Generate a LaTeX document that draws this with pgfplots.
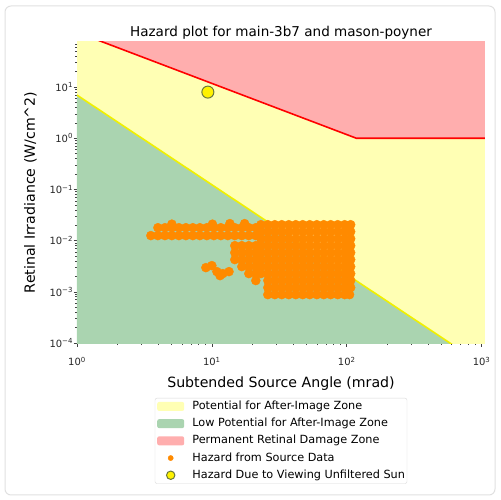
\documentclass[border=0pt]{standalone}
\usepackage{fontspec}
\setmainfont{DejaVu Sans}
\usepackage{pgfplots}
\pgfplotsset{compat=1.18}
\definecolor{yellowfill}{RGB}{255,255,180}
\definecolor{greenfill}{RGB}{170,212,176}
\definecolor{redfill}{RGB}{255,174,174}
\definecolor{yellowline}{RGB}{240,240,0}
\definecolor{hazorange}{RGB}{255,138,0}
\definecolor{sunedge}{RGB}{105,120,60}
\begin{document}
\begin{tikzpicture}
\begin{axis}[
  at={(77bp,157bp)}, anchor=south west,
  scale only axis, width=408bp, height=301bp,
  xmode=log, ymode=log,
  xmin=1, xmax=1060, ymin=1e-4, ymax=76,
  axis line style={draw=none},
  tick pos=left, tick align=outside,
  major tick length=3.5bp, minor tick length=2bp,
  every tick/.style={black!75, line width=0.6bp},
  xtick={1,10,100,1000},
  xticklabels={10\textsuperscript{0},10\textsuperscript{1},10\textsuperscript{2},10\textsuperscript{3}},
  minor xtick={2,3,4,5,6,7,8,9,20,30,40,50,60,70,80,90,200,300,400,500,600,700,800,900},
  ytick={1e-4,1e-3,1e-2,1e-1,1,10},
  yticklabels={10\textsuperscript{−4},10\textsuperscript{−3},10\textsuperscript{−2},10\textsuperscript{−1},10\textsuperscript{0},10\textsuperscript{1}},
  minor ytick={2e-4,3e-4,4e-4,5e-4,6e-4,7e-4,8e-4,9e-4,
    2e-3,3e-3,4e-3,5e-3,6e-3,7e-3,8e-3,9e-3,
    0.02,0.03,0.04,0.05,0.06,0.07,0.08,0.09,
    0.2,0.3,0.4,0.5,0.6,0.7,0.8,0.9,
    2,3,4,5,6,7,8,9,20,30,40,50,60,70},
  ticklabel style={font=\fontsize{10}{12}\selectfont, text=black!85},
  xticklabel style={yshift=-7bp},
  yticklabel style={xshift=3bp},
  title={Hazard plot for main-3b7 and mason-poyner},
  title style={at={(axis description cs:0.5,1.0)}, anchor=base, font=\fontsize{13.6}{16}\selectfont},
  xlabel={Subtended Source Angle (mrad)},
  ylabel={Retinal Irradiance (W/cm\^{}2)},
  xlabel style={at={(axis description cs:0.5,-0.1462)}, anchor=base, font=\fontsize{14.2}{17}\selectfont},
  ylabel style={at={(axis description cs:-0.103,0.5)}, anchor=base, font=\fontsize{14.2}{17}\selectfont},
  legend style={at={(axis description cs:0.5,-0.1827)}, anchor=north,
    font=\fontsize{11.3}{13}\selectfont,
    draw=black!15, rounded corners=2bp, fill=white,
    inner xsep=2bp, inner ysep=3bp,
    row sep=6.7bp, column sep=8bp,
    nodes={inner sep=0pt, text height=8.3bp, text depth=2.2bp}},
  legend cell align=left,
]
% zones
\addplot[fill=yellowfill, draw=none,
  legend image code/.code={\fill[yellowfill] (0bp,-4.5bp) rectangle (27bp,4.5bp);}]
  coordinates {(1,1e-5) (2000,1e-5) (2000,1000) (1,1000)};
\addlegendentry{Potential for After-Image Zone}
\addplot[fill=greenfill, draw=none,
  legend image code/.code={\fill[greenfill] (0bp,-4.5bp) rectangle (27bp,4.5bp);}]
  coordinates {(1,6.98) (1060,3.5e-5) (1060,1e-5) (1,1e-5)};
\addlegendentry{Low Potential for After-Image Zone}
\addplot[fill=redfill, draw=none,
  legend image code/.code={\fill[redfill] (0bp,-4.5bp) rectangle (27bp,4.5bp);}]
  coordinates {(1,118) (118,1) (1060,1) (1060,1000) (1,1000)};
\addlegendentry{Permanent Retinal Damage Zone}
% threshold lines
\addplot[yellowline, line width=1.6bp, forget plot] coordinates {(1,6.98) (1060,3.5e-5)};
\addplot[red, line width=1.6bp, forget plot] coordinates {(1,118) (118,1) (1060,1)};
% hazard from source data
\addplot[only marks, mark=*, mark size=4.5bp, hazorange, mark options={draw=hazorange, fill=hazorange},
  legend image code/.code={\path (0bp,0bp) (27bp,0bp); \fill[hazorange] (13.5bp,0bp) circle (2.6bp);}]
  coordinates {
  (23.1,0.0205) (26.0,0.0205) (29.3,0.0205) (33.0,0.0205) (37.2,0.0205) (41.9,0.0205) (47.2,0.0205) (53.2,0.0205) (60.0,0.0205) (67.6,0.0205) (76.1,0.0205) (85.8,0.0205) (96.6,0.0205) (107,0.0205)
  (23.1,0.0150) (26.0,0.0150) (29.3,0.0150) (33.0,0.0150) (37.2,0.0150) (41.9,0.0150) (47.2,0.0150) (53.2,0.0150) (60.0,0.0150) (67.6,0.0150) (76.1,0.0150) (85.8,0.0150) (96.6,0.0150) (107,0.0150)
  (23.1,0.0109) (26.0,0.0109) (29.3,0.0109) (33.0,0.0109) (37.2,0.0109) (41.9,0.0109) (47.2,0.0109) (53.2,0.0109) (60.0,0.0109) (67.6,0.0109) (76.1,0.0109) (85.8,0.0109) (96.6,0.0109) (107,0.0109)
  (23.1,0.00798) (26.0,0.00798) (29.3,0.00798) (33.0,0.00798) (37.2,0.00798) (41.9,0.00798) (47.2,0.00798) (53.2,0.00798) (60.0,0.00798) (67.6,0.00798) (76.1,0.00798) (85.8,0.00798) (96.6,0.00798) (107,0.00798)
  (23.1,0.00583) (26.0,0.00583) (29.3,0.00583) (33.0,0.00583) (37.2,0.00583) (41.9,0.00583) (47.2,0.00583) (53.2,0.00583) (60.0,0.00583) (67.6,0.00583) (76.1,0.00583) (85.8,0.00583) (96.6,0.00583) (107,0.00583)
  (23.1,0.00426) (26.0,0.00426) (29.3,0.00426) (33.0,0.00426) (37.2,0.00426) (41.9,0.00426) (47.2,0.00426) (53.2,0.00426) (60.0,0.00426) (67.6,0.00426) (76.1,0.00426) (85.8,0.00426) (96.6,0.00426) (107,0.00426)
  (23.1,0.00311) (26.0,0.00311) (29.3,0.00311) (33.0,0.00311) (37.2,0.00311) (41.9,0.00311) (47.2,0.00311) (53.2,0.00311) (60.0,0.00311) (67.6,0.00311) (76.1,0.00311) (85.8,0.00311) (96.6,0.00311) (107,0.00311)
  (23.1,0.00227) (26.0,0.00227) (29.3,0.00227) (33.0,0.00227) (37.2,0.00227) (41.9,0.00227) (47.2,0.00227) (53.2,0.00227) (60.0,0.00227) (67.6,0.00227) (76.1,0.00227) (85.8,0.00227) (96.6,0.00227) (107,0.00227)
  (26.0,0.00166) (29.3,0.00166) (33.0,0.00166) (37.2,0.00166) (41.9,0.00166) (47.2,0.00166) (53.2,0.00166) (60.0,0.00166) (67.6,0.00166) (76.1,0.00166) (85.8,0.00166) (96.6,0.00166) (107,0.00166)
  (26.0,0.00121) (29.3,0.00121) (33.0,0.00121) (37.2,0.00121) (41.9,0.00121) (47.2,0.00121) (53.2,0.00121) (60.0,0.00121) (67.6,0.00121) (76.1,0.00121) (85.8,0.00121) (96.6,0.00121) (107,0.00121)
  (26.0,0.000881) (29.3,0.000881) (33.0,0.000881) (37.2,0.000881) (41.9,0.000881) (47.2,0.000881) (53.2,0.000881) (60.0,0.000881) (67.6,0.000881) (76.1,0.000881) (85.8,0.000881) (96.6,0.000881) (105,0.000881)
  (3.98,0.0179) (4.49,0.0179) (5.05,0.0179) (5.70,0.0179) (6.42,0.0179) (7.23,0.0179) (8.15,0.0179) (9.18,0.0179) (10.35,0.0179) (11.66,0.0179) (13.14,0.0179) (14.80,0.0179) (16.68,0.0179) (18.80,0.0179) (21.18,0.0179)
  (3.53,0.01254) (3.98,0.01254) (4.49,0.01254) (5.05,0.01254) (5.70,0.01254) (6.42,0.01254) (7.23,0.01254) (8.15,0.01254) (9.18,0.01254) (10.35,0.01254) (11.66,0.01254) (13.14,0.01254) (14.80,0.01254) (16.68,0.01254) (18.80,0.01254) (21.18,0.01254)
  (5.05,0.0210) (10.1,0.0210) (13.6,0.0215) (17.5,0.0215)
  (14.80,0.00798) (14.80,0.00583) (14.80,0.00426)
  (16.68,0.00798) (16.68,0.00583) (16.68,0.00426) (16.68,0.00311)
  (18.80,0.00798) (18.80,0.00583) (18.80,0.00426) (18.80,0.00311) (18.80,0.00227)
  (21.18,0.00798) (21.18,0.00583) (21.18,0.00426) (21.18,0.00311) (21.18,0.00227) (21.18,0.00166)
  (9.03,0.00297) (10.0,0.00325) (10.9,0.00248) (12.06,0.00227) (13.4,0.00248) (11.5,0.00207)
  };
\addlegendentry{Hazard from Source Data}
% sun
\addplot[only marks, mark=*, mark size=6bp, mark options={fill=yellow, draw=sunedge, line width=1bp},
  legend image code/.code={\path (0bp,0bp) (27bp,0bp); \draw[fill=yellow, draw=sunedge, line width=1bp] (13.5bp,0bp) circle (4.2bp);}]
  coordinates {(9.34,7.98)};
\addlegendentry{Hazard Due to Viewing Unfiltered Sun}
\end{axis}
\pgfresetboundingbox
\path (0bp,0bp) rectangle (501bp,500bp);
\draw[black!12, line width=1bp, rounded corners=6bp] (5bp,5bp) rectangle (495bp,494bp);
\end{tikzpicture}
\end{document}
